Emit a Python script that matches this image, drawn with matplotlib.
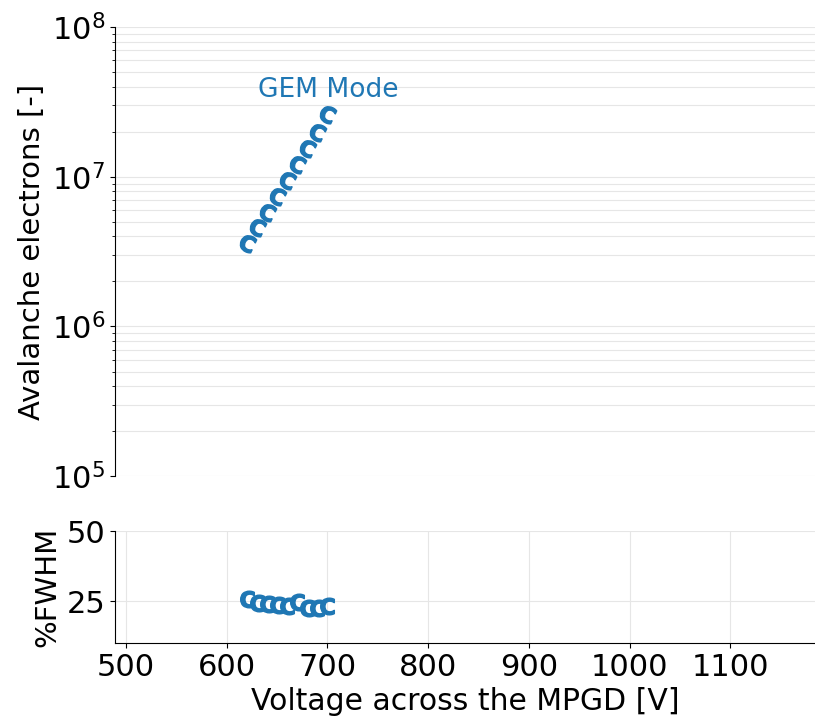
import matplotlib
matplotlib.use("Agg")
import matplotlib.pyplot as plt
from matplotlib.markers import MarkerStyle
from matplotlib.transforms import Affine2D
import numpy as np

voltage = [620, 630, 640, 650, 660, 670, 680, 690, 700]
avalanche = [3.6e6, 4.6e6, 5.8e6, 7.4e6, 9.6e6, 1.22e7, 1.55e7, 2.0e7, 2.65e7]
fwhm = [25.8, 24.2, 23.8, 23.6, 23.3, 24.6, 22.4, 22.6, 23.4]

color = "#1f77b4"
fig = plt.figure(figsize=(8.15, 7.16), dpi=100)
ax1 = fig.add_axes([0.141, 0.335, 0.859, 0.627])
ax2 = fig.add_axes([0.141, 0.102, 0.859, 0.156], sharex=ax1)

mk_top = MarkerStyle(r"$\mathbf{C}$", transform=Affine2D().rotate_deg(-25))
ax1.plot(voltage, avalanche, linestyle="none", marker=mk_top, markersize=12, color=color)
ax1.set_yscale("log")
ax1.set_ylim(1e5, 1e8)
ax1.set_ylabel("Avalanche electrons [-]", fontsize=21)
ax1.text(631, 3.8e7, "GEM Mode", color=color, fontsize=19, va="center", ha="left")
ax1.grid(True, which="both", axis="y", color="#e6e6e6", linewidth=0.8)
for s in ["top", "right", "bottom"]:
    ax1.spines[s].set_visible(False)
ax1.tick_params(axis="y", labelsize=22)
ax1.tick_params(axis="x", which="both", bottom=False, labelbottom=False)

ax2.plot(voltage, fwhm, linestyle="none", marker=r"$\mathbf{C}$", markersize=12, color=color)
ax2.set_ylim(10, 50)
ax2.set_yticks([25, 50])
ax2.set_ylabel("%FWHM", fontsize=21)
ax2.set_xlabel("Voltage across the MPGD [V]", fontsize=21.5)
ax2.grid(True, color="#e6e6e6", linewidth=0.8)
for s in ["top", "right"]:
    ax2.spines[s].set_visible(False)
ax2.tick_params(axis="both", labelsize=22)
ax2.set_xlim(489, 1184)
ax2.set_xticks([500, 600, 700, 800, 900, 1000, 1100])

fig.savefig("out.png", dpi=100)
